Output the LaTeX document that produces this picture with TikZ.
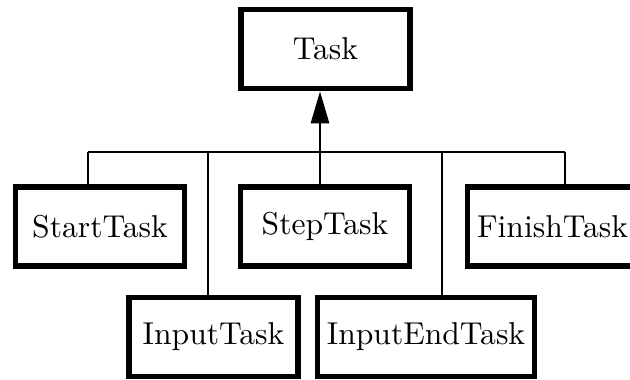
\documentclass[tikz,border=0pt]{standalone}
\usepackage{tikz}
\usetikzlibrary{arrows.meta}

\begin{document}
\begin{tikzpicture}[x=0.3226pt,y=-0.3226pt,semithick,
                    >={Triangle[length=10.3pt,width=5.9pt]}]
  \tikzstyle{taskbox}=[draw,line width=1.8pt,minimum width=54.5pt,
                       minimum height=25.6pt,inner xsep=3pt,
                       font=\fontsize{10.2pt}{12pt}\selectfont]
  \useasboundingbox (0,0) rectangle (630,380);

  \node[taskbox] (task)      at (325.5,49)  {Task};
  \node[taskbox] (start)     at (100,226.5) {StartTask};
  \node[taskbox] (step)      at (325,226.5) {StepTask};
  \node[taskbox] (finish)    at (552.5,226.5) {FinishTask};
  \node[taskbox] (input)     at (213.5,337) {InputTask};
  \node[taskbox] (inputend)  at (426,337)   {InputEndTask};

  % bus between the subclasses and Task
  \coordinate (hub)     at (320,152);
  \coordinate (bStart)  at (88,152);
  \coordinate (bInput)  at (208,152);
  \coordinate (bEnd)    at (442,152);
  \coordinate (bFinish) at (565,152);

  \draw (bStart) -- (bFinish);
  \draw[->] (hub) -- (hub |- task.south);
  \path[draw] (bStart)  -- (bStart |- start.north)
              (bInput)  -- (bInput |- input.north)
              (hub)     -- (hub |- step.north)
              (bEnd)    -- (bEnd |- inputend.north)
              (bFinish) -- (bFinish |- finish.north)
  ; %end path

\end{tikzpicture}
\end{document}
